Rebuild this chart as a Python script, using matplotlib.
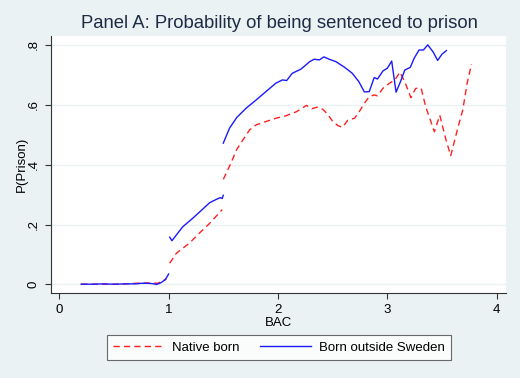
import matplotlib
matplotlib.use('Agg')
import matplotlib.pyplot as plt

# BAC vs P(Prison); three separate pieces per group
native_x1 = [0.2, 0.3, 0.4, 0.5, 0.6, 0.7, 0.75, 0.8, 0.85, 0.9, 0.95, 0.98]
native_y1 = [0.001, 0.001, 0.001, 0.001, 0.002, 0.004, 0.005, 0.005, 0.005, 0.004, 0.012, 0.02]
native_x2 = [1.01, 1.07, 1.19, 1.28, 1.375, 1.49]
native_y2 = [0.071, 0.104, 0.138, 0.171, 0.204, 0.25]
native_x3 = [1.5, 1.57, 1.62, 1.68, 1.74, 1.80, 1.89, 1.98, 2.07, 2.17, 2.26, 2.31,
             2.36, 2.41, 2.45, 2.50, 2.55, 2.59, 2.64, 2.70, 2.74, 2.79, 2.835, 2.88,
             2.91, 2.96, 3.02, 3.07, 3.115, 3.16, 3.215, 3.26, 3.31, 3.35, 3.43, 3.48,
             3.535, 3.58, 3.64, 3.69, 3.73, 3.77]
native_y3 = [0.351, 0.405, 0.449, 0.483, 0.516, 0.533, 0.544, 0.555, 0.563, 0.577, 0.598, 0.587,
             0.592, 0.585, 0.570, 0.545, 0.530, 0.525, 0.549, 0.555, 0.575, 0.605, 0.627, 0.633,
             0.630, 0.655, 0.672, 0.683, 0.709, 0.677, 0.624, 0.655, 0.655, 0.595, 0.510, 0.565,
             0.485, 0.430, 0.516, 0.583, 0.672, 0.736]

foreign_x1 = [0.2, 0.3, 0.4, 0.5, 0.6, 0.7, 0.75, 0.8, 0.85, 0.89, 0.93, 0.97, 1.0]
foreign_y1 = [0.001, 0.001, 0.002, 0.001, 0.002, 0.002, 0.004, 0.004, 0.003, 0.0, 0.006, 0.016, 0.035]
foreign_x2 = [1.01, 1.03, 1.07, 1.13, 1.22, 1.31, 1.375, 1.43, 1.46, 1.475, 1.49, 1.5]
foreign_y2 = [0.158, 0.146, 0.165, 0.193, 0.221, 0.251, 0.273, 0.283, 0.288, 0.29, 0.287, 0.298]
foreign_x3 = [1.5, 1.557, 1.624, 1.71, 1.80, 1.89, 1.98, 2.04, 2.08, 2.13, 2.21, 2.29, 2.33,
              2.38, 2.42, 2.47, 2.53, 2.61, 2.68, 2.74, 2.79, 2.835, 2.88, 2.91, 2.96, 3.0,
              3.04, 3.08, 3.12, 3.16, 3.21, 3.245, 3.29, 3.33, 3.37, 3.42, 3.46, 3.50, 3.54]
foreign_y3 = [0.472, 0.522, 0.558, 0.589, 0.616, 0.644, 0.672, 0.683, 0.681, 0.705, 0.719, 0.744, 0.752,
              0.750, 0.760, 0.752, 0.744, 0.725, 0.705, 0.677, 0.643, 0.644, 0.691, 0.686, 0.713, 0.722,
              0.746, 0.642, 0.677, 0.716, 0.725, 0.755, 0.783, 0.783, 0.800, 0.776, 0.748, 0.769, 0.781]

xticks = [0, 1, 2, 3, 4]
yticks = [0, 0.2, 0.4, 0.6, 0.8]
ytick_labels = ['0', '.2', '.4', '.6', '.8']

bg = '#EAF2F3'
text_col = '#1E2B45'
plt.rcParams['font.family'] = ['Liberation Sans', 'DejaVu Sans']

fig = plt.figure(figsize=(5.2, 3.78), dpi=100, facecolor=bg)
ax = fig.add_axes([0.098, 0.226, 0.875, 0.679])
ax.set_facecolor('white')

red_segs = [(native_x1, native_y1), (native_x2, native_y2), (native_x3, native_y3)]
blue_segs = [(foreign_x1, foreign_y1), (foreign_x2, foreign_y2), (foreign_x3, foreign_y3)]

for i, (x, y) in enumerate(red_segs):
    ax.plot(x, y, color='#FF2020', lw=1.0, dashes=(4.5, 3.0),
            label='Native born' if i == 0 else None, zorder=3)
for i, (x, y) in enumerate(blue_segs):
    ax.plot(x, y, color='#1A1AFF', lw=1.0,
            label='Born outside Sweden' if i == 0 else None, zorder=4)

ax.set_xlim(-0.076, 4.085)
ax.set_ylim(-0.027, 0.830)
ax.set_xticks(xticks)
ax.set_yticks(yticks)
ax.set_yticklabels(ytick_labels, rotation=90, va='center')
ax.tick_params(axis='both', colors='#333333', labelcolor='black', labelsize=9.5,
               length=4.5, width=0.8)
ax.grid(axis='y', color=bg, lw=1.0)
ax.set_axisbelow(True)

for s in ['top', 'right']:
    ax.spines[s].set_visible(False)
for s in ['left', 'bottom']:
    ax.spines[s].set_color('#333333')
    ax.spines[s].set_linewidth(0.8)

ax.set_xlabel('BAC', fontsize=9.5, labelpad=1)
ax.set_ylabel('P(Prison)', fontsize=9.5, labelpad=0)

fig.text(0.537, 0.937, 'Panel A: Probability of being sentenced to prison',
         ha='center', va='center', fontsize=13.3, color=text_col)

leg = fig.legend(loc='center', bbox_to_anchor=(279 / 520, 1 - 347.5 / 378), ncol=2,
                 fontsize=9.5, frameon=True, fancybox=False, handlelength=3.9,
                 columnspacing=1.5, borderpad=0.45, handletextpad=0.6, borderaxespad=0)
leg.get_frame().set_edgecolor('#444444')
leg.get_frame().set_linewidth(0.8)

fig.savefig('out.png', dpi=100, facecolor=bg)
